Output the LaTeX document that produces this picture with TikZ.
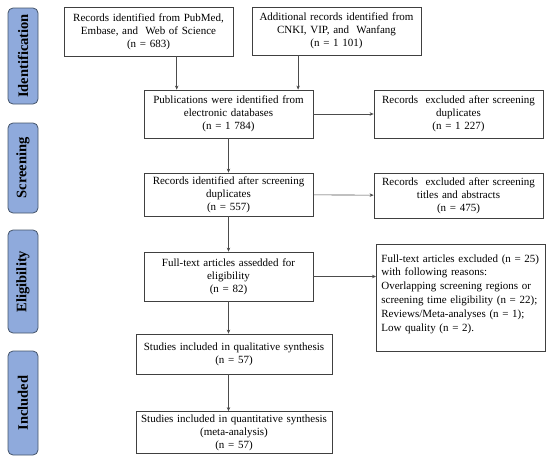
\documentclass[tikz,border=0pt]{standalone}
\usepackage{fontspec}
\setmainfont{Liberation Serif}
\usetikzlibrary{calc,arrows.meta}
\definecolor{stagefill}{HTML}{8FAADC}
\definecolor{stagedraw}{HTML}{44546A}
\begin{document}
\begin{tikzpicture}[x=1pt,y=-1pt,>={Stealth[length=4pt,width=3.5pt]}]
	\tikzstyle{record}=[draw=black!75,line width=0.8pt,align=center,text width=163pt,minimum width=169pt,inner sep=3pt,font=\fontsize{11}{13}\selectfont]
	\tikzstyle{stage}=[rounded corners=5pt,draw=stagedraw,line width=0.8pt,fill=stagefill,minimum height=30pt,font=\fontsize{14.5}{16}\selectfont\bfseries,rotate=90]
	\tikzstyle{arrow}=[draw=black!70,line width=0.6pt,->]
	\useasboundingbox (0,0) rectangle (550,463);

	% stages
	\node [stage,minimum width=96pt] (identification) at (23,56) {Identification};
	\node [stage,minimum width=90pt] (screening) at (23,168) {Screening};
	\node [stage,minimum width=103pt] (eligibility) at (23,281.5) {Eligibility};
	\node [stage,minimum width=104pt] (included) at (23,403) {Included};

	% records
	\node [record,minimum height=49pt] (pubmed) at (148.5,31.5) {Records identified from PubMed,\\ Embase, and~~Web of Science\\ (n = 683)};
	\node [record,minimum height=48pt] (cnki) at (336.5,31) {Additional records identified from\\ CNKI, VIP, and~~Wanfang\\ (n = 1 101)};
	\node [record,minimum height=48pt] (pub) at (228.5,114) {Publications were identified from\\ electronic databases\\ (n = 1 784)};
	\node [record,minimum height=48pt] (dup) at (458.5,114) {Records~~excluded after screening\\ duplicates\\ (n = 1 227)};
	\node [record,minimum height=43pt] (screen) at (228.5,194.5) {Records identified after screening\\ duplicates\\ (n = 557)};
	\node [record,minimum height=45pt] (title) at (458.5,195.5) {Records~~excluded after screening\\ titles and abstracts\\ (n = 475)};
	\node [record,minimum height=49pt] (full) at (228.5,276.5) {Full-text articles assedded for\\ eligibility\\ (n = 82)};
	\node [record,anchor=north west,align=left,text width=159pt,inner xsep=5pt,inner ysep=10pt,text depth=79pt,font=\fontsize{11}{13.8}\selectfont] (fullex) at (376,244) {Full-text articles excluded (n = 25)\\ with following reasons:\\ Overlapping screening regions or\\ screening time eligibility (n = 22);\\ Reviews/Meta-analyses (n = 1);\\ Low quality (n = 2).};
	\node [record,text width=190pt,minimum width=196pt,minimum height=40pt] (qual) at (234,354) {Studies included in qualitative synthesis\\ (n = 57)};
	\node [record,text width=190pt,minimum width=196pt,minimum height=41pt] (quant) at (234,432.5) {Studies included in quantitative synthesis\\ (meta-analysis)\\ (n = 57)};

	\coordinate (pubin) at ($(pub.north west)!0.195!(pub.north east)$);
	\coordinate (cnkiin) at ($(pub.north west)!0.91!(pub.north east)$);

	\draw[arrow] (pubmed.south -| pubin) -- (pubin);
	\draw[arrow] (cnki.south -| cnkiin) -- (cnkiin);
	\draw[arrow] (pub) -- (dup);
	\draw[arrow] (pub) -- (screen);
	\draw[arrow] (screen) -- (title);
	\draw[arrow] (screen) -- (full);
	\draw[arrow] (full.east) -- (full.east -| fullex.west);
	\draw[arrow] (full.south) -- (full.south |- qual.north);
	\draw[arrow] (qual.south -| full.south) -- (quant.north -| full.south);
\end{tikzpicture}
\end{document}
